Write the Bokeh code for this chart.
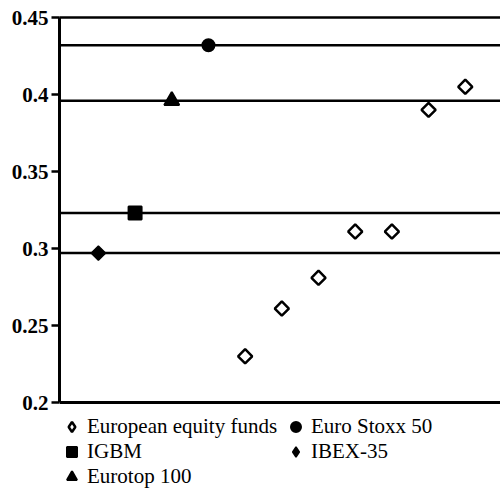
import math
from bokeh.plotting import figure
from bokeh.models import (Range1d, FixedTicker, LinearAxis, Span, Legend,
                          LegendItem)
from bokeh.embed import file_html
from bokeh.resources import INLINE

# ---- data ----
fund_x = [5, 6, 7, 8, 9, 10, 11]
fund_y = [0.230, 0.261, 0.281, 0.311, 0.311, 0.390, 0.405]

bench_names = ["IBEX-35", "IGBM", "Eurotop 100", "Euro Stoxx 50"]
bench_x = [1, 2, 3, 4]
bench_y = [0.297, 0.323, 0.396, 0.432]

y_ticks = [0.2, 0.25, 0.3, 0.35, 0.4, 0.45]
y_tick_labels = ["0.2", "0.25", "0.3", "0.35", "0.4", "0.45"]

SERIF = "Liberation Serif"

# layout: frame spans 17..489 px vertically; the value axis spans 17..402 px,
# the space below holds the legend
W, H = 500, 489
TOP, AXIS_BOTTOM = 17, 402
y_lo, y_hi = y_ticks[0], y_ticks[-1]
y_start = y_lo - (H - AXIS_BOTTOM) / (AXIS_BOTTOM - TOP) * (y_hi - y_lo)

p = figure(width=W, height=H, output_backend="svg", toolbar_location=None,
           x_range=Range1d(-0.06, 11.96), y_range=Range1d(y_start, y_hi),
           x_axis_location=None,
           min_border_left=59, min_border_right=0, min_border_top=TOP,
           min_border_bottom=0)
p.grid.visible = False
p.outline_line_color = None
p.background_fill_color = "white"
p.border_fill_color = "white"

# left axis
p.yaxis.bounds = (y_lo, y_hi)
p.yaxis.ticker = FixedTicker(ticks=y_ticks)
p.yaxis.major_label_overrides = dict(zip(y_ticks, y_tick_labels))
p.yaxis.major_label_text_font = SERIF
p.yaxis.major_label_text_font_style = "bold"
p.yaxis.major_label_text_font_size = "21px"
p.yaxis.major_label_text_color = "black"
p.yaxis.major_label_standoff = 3
p.yaxis.major_tick_out = 8
p.yaxis.major_tick_in = 0
p.yaxis.major_tick_line_width = 2.5
p.yaxis.major_tick_line_color = "black"
p.yaxis.minor_tick_line_color = None
p.yaxis.axis_line_width = 3
p.yaxis.axis_line_color = "black"

# top line
top = LinearAxis(ticker=FixedTicker(ticks=[]), major_label_text_font_size="0px",
                 major_tick_line_color=None, minor_tick_line_color=None,
                 axis_line_width=2.5, axis_line_color="black")
p.add_layout(top, "above")

# baseline at the bottom of the value axis
p.add_layout(Span(location=y_lo, dimension="width", line_color="black",
                  line_width=3))

# benchmark reference lines
for v in bench_y:
    p.add_layout(Span(location=v, dimension="width", line_color="black",
                      line_width=2.5))

# legend-only diamond glyphs (hidden under the plotted markers)
leg_funds = p.scatter(fund_x, fund_y, marker="diamond", size=1, fill_color="white",
                      line_color="black", line_width=2.5)
leg_ibex = p.scatter([bench_x[0]], [bench_y[0]], marker="diamond", size=1,
                     fill_color="black", line_color="black", line_width=1.5)

# markers
r_funds = p.scatter(fund_x, fund_y, marker="square", angle=math.pi / 4, size=10,
                    fill_color="white", line_color="black", line_width=2.5)
r_ibex = p.scatter([bench_x[0]], [bench_y[0]], marker="square", angle=math.pi / 4,
                   size=10, fill_color="black", line_color="black", line_width=1.5)
r_igbm = p.scatter([bench_x[1]], [bench_y[1]], marker="square", size=13,
                   fill_color="black", line_color="black", line_width=2)
r_eurotop = p.scatter([bench_x[2]], [bench_y[2]], marker="triangle", size=15,
                      fill_color="black", line_color="black", line_width=2)
r_stoxx = p.scatter([bench_x[3]], [bench_y[3]], marker="circle", size=12,
                    fill_color="black", line_color="black", line_width=2)

common = dict(glyph_width=25, glyph_height=25, spacing=0, padding=0, margin=0,
              border_line_color=None, background_fill_alpha=0,
              label_text_font=SERIF, label_text_font_size="21px",
              label_text_color="black", label_standoff=3, label_height=20)

legA = Legend(items=[LegendItem(label="European equity funds", renderers=[leg_funds]),
                     LegendItem(label=bench_names[1], renderers=[r_igbm]),
                     LegendItem(label=bench_names[2], renderers=[r_eurotop])],
              location=(0, 0), **common)
legB = Legend(items=[LegendItem(label=bench_names[3], renderers=[r_stoxx]),
                     LegendItem(label=bench_names[0], renderers=[leg_ibex])],
              location=(224, 25), **common)
p.add_layout(legA)
p.add_layout(legB)

open("out.html", "w").write(file_html(p, INLINE))
